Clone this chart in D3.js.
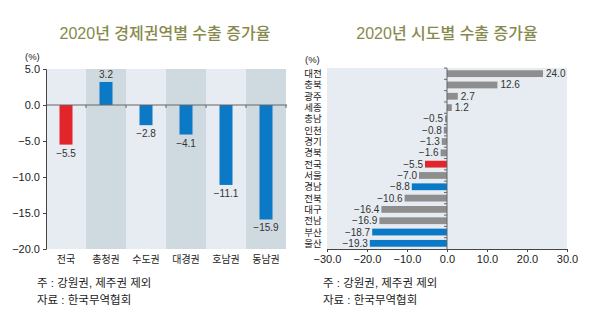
<!DOCTYPE html>
<html>
<head>
<meta charset="utf-8">
<script src="https://cdn.jsdelivr.net/npm/d3@7"></script>
<style>
  body { margin: 0; background: #fff; }
  text { font-family: "Liberation Sans", "Noto Sans CJK KR", sans-serif; }
</style>
</head>
<body>
<script>
// left chart: regions
var regions = ["전국", "총청권", "수도권", "대경권", "호남권", "동남권"];
var regionValues = [-5.5, 3.2, -2.8, -4.1, -11.1, -15.9];
var regionColors = ["#e2242b", "#0b79c6", "#0b79c6", "#0b79c6", "#0b79c6", "#0b79c6"];
var regionTicks = [5, 0, -5, -10, -15, -20];

// right chart: provinces
var provinces = ["대전", "충북", "광주", "세종", "충남", "인천", "경기", "경북", "전국", "서울", "경남", "전북", "대구", "전남", "부산", "울산"];
var provinceValues = [24.0, 12.6, 2.7, 1.2, -0.5, -0.8, -1.3, -1.6, -5.5, -7.0, -8.8, -10.6, -16.4, -16.9, -18.7, -19.3];
var provinceColors = ["g", "g", "g", "g", "g", "g", "g", "g", "r", "g", "b", "g", "g", "g", "b", "b"];
var provinceTicks = [-30, -20, -10, 0, 10, 20, 30];

var colorMap = { g: "#8e8e8e", r: "#e2242b", b: "#0b79c6" };
var fmt = function(v){ return d3.format(".1f")(v).replace("-", "−"); };

var svg = d3.select("body").append("svg")
            .attr("width", 600)
            .attr("height", 329);

var titleColor = "#878a4c";

// ---------- left chart ----------
var left = svg.append("g");

left.append("text")
    .attr("x", 165).attr("y", 39)
    .attr("text-anchor", "middle")
    .attr("fill", titleColor)
    .style("font-size", "16px")
    .style("font-weight", "500")
    .text("2020년 경제권역별 수출 증가율");

var xL = d3.scaleBand().domain(regions).range([46, 286]);
var yL = d3.scaleLinear().domain([-20, 5]).range([249, 69]);

// alternating bands
left.selectAll("rect.band")
    .data(regions)
    .enter().append("rect")
    .attr("x", function(d){ return xL(d); })
    .attr("y", yL(5))
    .attr("width", xL.bandwidth())
    .attr("height", yL(-20) - yL(5))
    .attr("fill", function(d, i){ return i % 2 ? "#cfd9e0" : "#e6ecf1"; });

left.selectAll("rect.bar")
    .data(regionValues)
    .enter().append("rect")
    .attr("x", function(d, i){ return xL(regions[i]) + xL.bandwidth() / 2 - 6.5; })
    .attr("y", function(d){ return yL(Math.max(0, d)); })
    .attr("width", 13)
    .attr("height", function(d){ return Math.abs(yL(d) - yL(0)); })
    .attr("fill", function(d, i){ return regionColors[i]; });

left.selectAll("text.val")
    .data(regionValues)
    .enter().append("text")
    .attr("x", function(d, i){ return xL(regions[i]) + xL.bandwidth() / 2; })
    .attr("y", function(d){ return d < 0 ? yL(d) + 12 : yL(d) - 4; })
    .attr("text-anchor", "middle")
    .attr("fill", "#333")
    .style("font-size", "10px")
    .text(function(d){ return fmt(d); });

// zero line + ticks
left.append("line")
    .attr("x1", 46).attr("x2", 287)
    .attr("y1", yL(0)).attr("y2", yL(0))
    .attr("stroke", "#666").attr("stroke-width", 1);
left.selectAll("line.zt")
    .data(regions)
    .enter().append("line")
    .attr("x1", function(d){ return xL(d) + xL.bandwidth(); })
    .attr("x2", function(d){ return xL(d) + xL.bandwidth(); })
    .attr("y1", yL(0)).attr("y2", yL(0) + 3)
    .attr("stroke", "#666");

var axL = left.append("g")
    .attr("transform", "translate(46,0)")
    .call(d3.axisLeft(yL).tickValues(regionTicks).tickSize(3).tickFormat(fmt));
axL.select(".domain").attr("stroke", "#444");
axL.selectAll(".tick line").attr("stroke", "#444");
axL.selectAll(".tick text").attr("fill", "#222").style("font-size", "11px");

left.append("text")
    .attr("x", 25).attr("y", 60)
    .attr("fill", "#222")
    .style("font-size", "9.5px")
    .text("(%)");

left.selectAll("text.cat")
    .data(regions)
    .enter().append("text")
    .attr("x", function(d){ return xL(d) + xL.bandwidth() / 2; })
    .attr("y", 263)
    .attr("text-anchor", "middle")
    .attr("fill", "#222")
    .style("font-size", "10px")
    .text(function(d){ return d; });

// ---------- right chart ----------
var right = svg.append("g");

right.append("text")
    .attr("x", 447).attr("y", 39)
    .attr("text-anchor", "middle")
    .attr("fill", titleColor)
    .style("font-size", "16px")
    .style("font-weight", "500")
    .text("2020년 시도별 수출 증가율");

var xR = d3.scaleLinear().domain([-30, 30]).range([327, 567]);
var yR = d3.scaleBand().domain(provinces).range([68, 249]).paddingInner(0.4).paddingOuter(0.2);
var step = yR.step();

right.append("rect")
    .attr("x", xR(-30)).attr("y", 68)
    .attr("width", xR(30) - xR(-30))
    .attr("height", 181)
    .attr("fill", "#e6ecf1");

right.selectAll("rect.bar")
    .data(provinceValues)
    .enter().append("rect")
    .attr("x", function(d){ return xR(Math.min(0, d)); })
    .attr("y", function(d, i){ return yR(provinces[i]); })
    .attr("width", function(d){ return Math.abs(xR(d) - xR(0)); })
    .attr("height", yR.bandwidth())
    .attr("fill", function(d, i){ return colorMap[provinceColors[i]]; });

right.selectAll("text.val")
    .data(provinceValues)
    .enter().append("text")
    .attr("x", function(d){ return d < 0 ? xR(d) - 2 : xR(d) + 3; })
    .attr("y", function(d, i){ return yR(provinces[i]) + yR.bandwidth() / 2 + 3.5; })
    .attr("text-anchor", function(d){ return d < 0 ? "end" : "start"; })
    .attr("fill", "#333")
    .style("font-size", "10px")
    .text(function(d){ return fmt(d); });

// zero line + ticks
right.append("line")
    .attr("x1", xR(0)).attr("x2", xR(0))
    .attr("y1", 68).attr("y2", 249)
    .attr("stroke", "#666");
right.selectAll("line.zt")
    .data(provinces)
    .enter().append("line")
    .attr("x1", xR(0) - 3).attr("x2", xR(0))
    .attr("y1", function(d){ return yR(d) - step * yR.paddingInner() / 2; })
    .attr("y2", function(d){ return yR(d) - step * yR.paddingInner() / 2; })
    .attr("stroke", "#666");

var axR = right.append("g")
    .attr("transform", "translate(0,249)")
    .call(d3.axisBottom(xR).tickValues(provinceTicks).tickSize(3).tickFormat(fmt));
axR.select(".domain").attr("stroke", "#444");
axR.selectAll(".tick line").attr("stroke", "#444");
axR.selectAll(".tick text").attr("fill", "#222").style("font-size", "11px");

right.append("text")
    .attr("x", 305).attr("y", 63)
    .attr("fill", "#222")
    .style("font-size", "9.5px")
    .text("(%)");

right.selectAll("text.cat")
    .data(provinces)
    .enter().append("text")
    .attr("x", 313)
    .attr("y", function(d){ return yR(d) + yR.bandwidth() / 2 + 3.5; })
    .attr("text-anchor", "middle")
    .attr("fill", "#222")
    .style("font-size", "9.5px")
    .text(function(d){ return d; });

// ---------- notes ----------
var notes = ["주 : 강원권, 제주권 제외", "자료 : 한국무역협회"];
[37, 323].forEach(function(x){
    svg.selectAll(null)
       .data(notes)
       .enter().append("text")
       .attr("x", x)
       .attr("y", function(d, i){ return 287 + i * 17; })
       .attr("fill", "#222")
       .style("font-size", "11.5px")
       .text(function(d){ return d; });
});
</script>
</body>
</html>
